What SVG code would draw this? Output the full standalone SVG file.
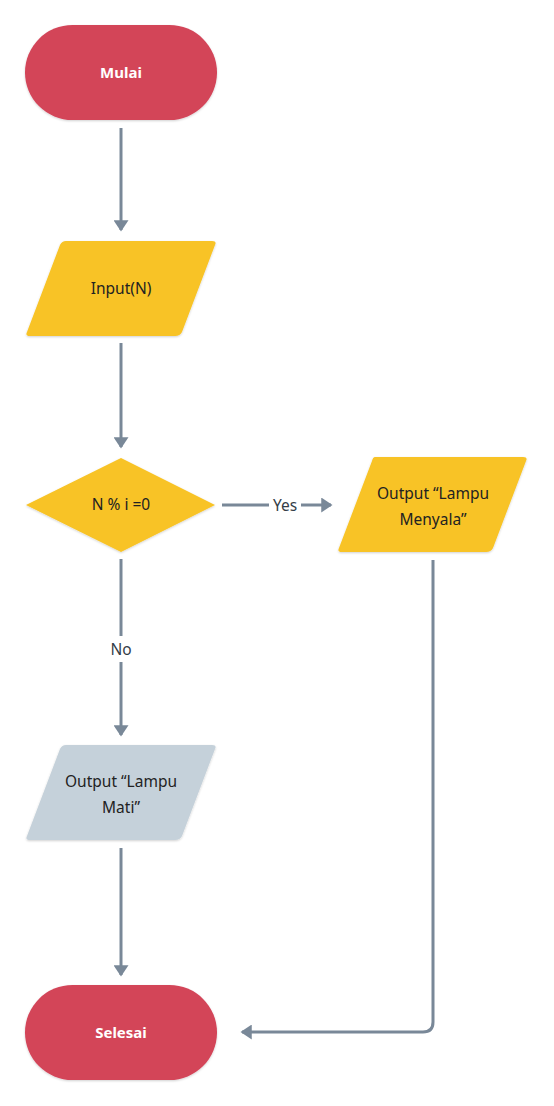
<svg xmlns="http://www.w3.org/2000/svg" width="554" height="1106" viewBox="0 0 554 1106">
<defs>
<filter id="sh" x="-10%" y="-10%" width="120%" height="130%">
<feDropShadow dx="0" dy="1" stdDeviation="1.2" flood-color="#000" flood-opacity="0.18"/>
</filter>
<marker id="ah" markerWidth="5" markerHeight="5" refX="2.6" refY="2" orient="auto" markerUnits="strokeWidth" viewBox="0 0 4 4">
<path d="M0,0 L3,2 L0,4 Z" fill="#798898"/>
</marker>
<style>
.t{fill:#D34459;filter:url(#sh)}
.y{fill:#F8C325;filter:url(#sh)}
.g{fill:#C5D1DA;filter:url(#sh)}
.w{font-family:"Noto Sans","Liberation Sans",sans-serif;font-size:15px;font-weight:bold;fill:#fff;text-anchor:middle}
.d{font-family:"Noto Sans","Liberation Sans",sans-serif;font-size:15.5px;fill:#222;text-anchor:middle}
.l{font-family:"Noto Sans","Liberation Sans",sans-serif;font-size:15.5px;fill:#333d47;text-anchor:middle}
.c{fill:none;stroke:#798898;stroke-width:3}
</style>
</defs>
<rect width="554" height="1106" fill="#fff"/>
<g id="connectors">
<line class="c" x1="121" y1="128" x2="121" y2="230" marker-end="url(#ah)"/>
<line class="c" x1="121" y1="343" x2="121" y2="447" marker-end="url(#ah)"/>
<line class="c" x1="121" y1="559" x2="121" y2="636"/>
<line class="c" x1="121" y1="662" x2="121" y2="735" marker-end="url(#ah)"/>
<text class="l" x="121" y="655">No</text>
<line class="c" x1="222" y1="505" x2="269" y2="505"/>
<line class="c" x1="301" y1="505" x2="331" y2="505" marker-end="url(#ah)"/>
<text class="l" x="285" y="511">Yes</text>
<line class="c" x1="121" y1="848" x2="121" y2="975" marker-end="url(#ah)"/>
<path class="c" d="M433,560 L433,1022 Q433,1032 423,1032 L242,1032" marker-end="url(#ah)"/>
</g>
<g id="mulai">
<rect class="t" x="25" y="25" width="192" height="95" rx="47.5"/>
<text class="w" x="121" y="78">Mulai</text>
</g>
<g id="input">
<path class="y" d="M66,241 L212,241 Q217,241 215,245 L182,332 Q180,336 175,336 L30,336 Q25,336 27,332 L60,245 Q62,241 66,241 Z"/>
<text class="d" x="121" y="294">Input(N)</text>
</g>
<g id="decision">
<path class="y" d="M121,458 L215,505 L121,552 L26,505 Z"/>
<text class="d" x="121" y="510">N % i =0</text>
</g>
<g id="menyala">
<path class="y" d="M375,457 L523,457 Q528,457 526,461 L493,548 Q491,552 486,552 L342,552 Q337,552 339,548 L372,461 Q373,457 375,457 Z"/>
<text class="d" x="433" y="499">Output “Lampu</text>
<text class="d" x="433" y="525">Menyala”</text>
</g>
<g id="mati">
<path class="g" d="M66,745 L212,745 Q217,745 215,749 L182,836 Q180,840 175,840 L30,840 Q25,840 27,836 L60,749 Q62,745 66,745 Z"/>
<text class="d" x="121" y="787">Output “Lampu</text>
<text class="d" x="121" y="813">Mati”</text>
</g>
<g id="selesai">
<rect class="t" x="25" y="985" width="192" height="95" rx="47.5"/>
<text class="w" x="121" y="1038">Selesai</text>
</g>
</svg>
